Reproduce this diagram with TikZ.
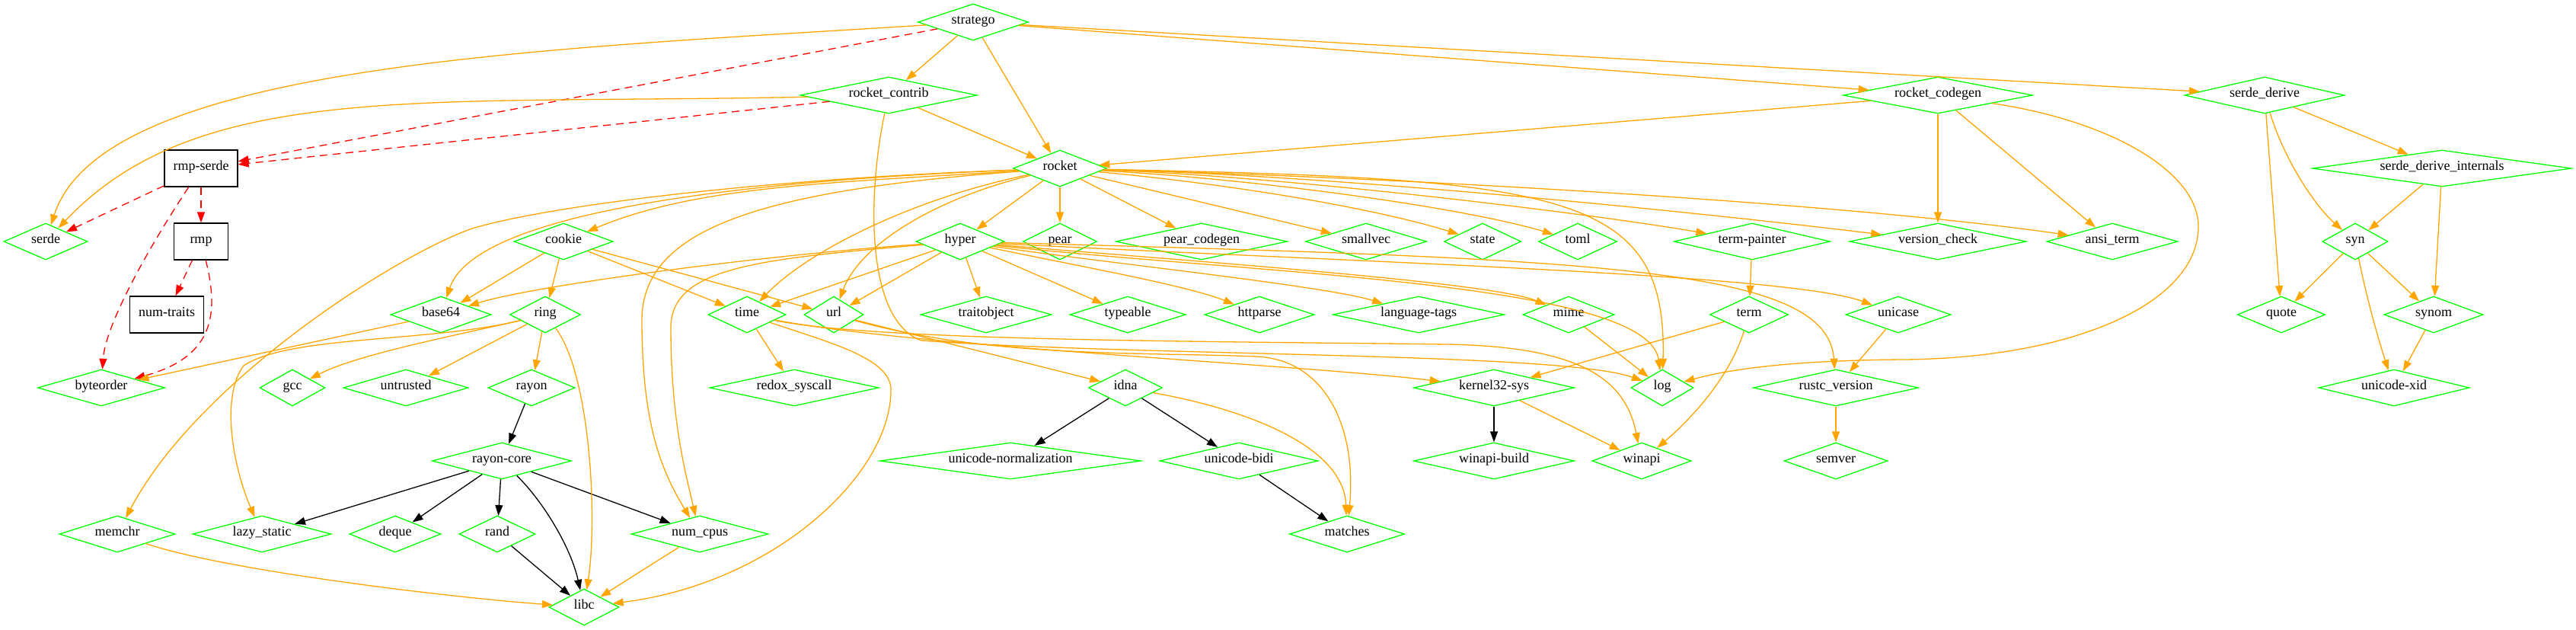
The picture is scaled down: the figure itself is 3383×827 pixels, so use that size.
\documentclass[tikz,border=0pt]{standalone}
\usepackage{fontspec}
\setmainfont{Liberation Serif}
\usetikzlibrary{arrows.meta, shapes.geometric}
\definecolor{crategreen}{HTML}{00FF00}
\definecolor{deporange}{HTML}{FFA500}
\definecolor{optred}{HTML}{FF0000}

\begin{document}
\begin{tikzpicture}[
    x=1pt, y=-1pt,
    every node/.style={font=\fontsize{18}{21}\selectfont, inner sep=0pt, minimum height=48pt, text height=5pt, text depth=-5pt, line width=1.3pt},
    crate/.style={diamond, aspect=4, draw=crategreen, minimum width=#1},
    localcrate/.style={rectangle, draw=black, minimum width=#1},
    dep/.style={draw=deporange, line width=1.3pt, -{Triangle[length=14pt, width=10pt]}},
    optdep/.style={dep, draw=optred, dash pattern=on 10pt off 7pt},
    plaindep/.style={dep, draw=black},
    every edge/.style={dep}
]
\useasboundingbox (0,0) rectangle (3383,827);

\node[crate=145] (stratego) at (1278,29) {stratego};
\node[crate=232] (rocketcontrib) at (1167,125) {rocket\_contrib};
\node[crate=249] (rocketcodegen) at (2545,125) {rocket\_codegen};
\node[crate=210] (serdederive) at (2974,125) {serde\_derive};
\node[localcrate=96] (rmpserde) at (264,221) {rmp-serde};
\node[crate=123] (rocket) at (1392,221) {rocket};
\node[crate=340] (serdederiveint) at (3207,221) {serde\_derive\_internals};
\node[crate=110] (serde) at (60,317) {serde};
\node[localcrate=71] (rmp) at (264,317) {rmp};
\node[crate=130] (cookie) at (740,317) {cookie};
\node[crate=116] (hyper) at (1261,317) {hyper};
\node[crate=97] (pear) at (1392,317) {pear};
\node[crate=225] (pearcodegen) at (1578,317) {pear\_codegen};
\node[crate=159] (smallvec) at (1794,317) {smallvec};
\node[crate=101] (state) at (1947,317) {state};
\node[crate=103] (toml) at (2072,317) {toml};
\node[crate=205] (termpainter) at (2301,317) {term-painter};
\node[crate=232] (versioncheck) at (2545,317) {version\_check};
\node[crate=172] (ansiterm) at (2774,317) {ansi\_term};
\node[crate=86] (syn) at (3093,317) {syn};
\node[localcrate=97] (numtraits) at (219,413) {num-traits};
\node[crate=132] (base64) at (579,413) {base64};
\node[crate=93] (ring) at (716,413) {ring};
\node[crate=102] (time) at (981,413) {time};
\node[crate=78] (url) at (1095,413) {url};
\node[crate=172] (traitobject) at (1295,413) {traitobject};
\node[crate=152] (typeable) at (1481,413) {typeable};
\node[crate=144] (httparse) at (1654,413) {httparse};
\node[crate=225] (langtags) at (1863,413) {language-tags};
\node[crate=120] (mime) at (2060,413) {mime};
\node[crate=103] (term) at (2297,413) {term};
\node[crate=138] (unicase) at (2493,413) {unicase};
\node[crate=115] (quote) at (2996,413) {quote};
\node[crate=130] (synom) at (3196,413) {synom};
\node[crate=167] (byteorder) at (133,509) {byteorder};
\node[crate=86] (gcc) at (384,509) {gcc};
\node[crate=164] (untrusted) at (533,509) {untrusted};
\node[crate=114] (rayon) at (698,509) {rayon};
\node[crate=222] (redoxsyscall) at (1043,509) {redox\_syscall};
\node[crate=97] (idna) at (1478,509) {idna};
\node[crate=211] (kernel32) at (1962,509) {kernel32-sys};
\node[crate=82] (log) at (2183,509) {log};
\node[crate=217] (rustcversion) at (2411,509) {rustc\_version};
\node[crate=198] (unicodexid) at (3144,509) {unicode-xid};
\node[crate=183] (rayoncore) at (659,605) {rayon-core};
\node[crate=343] (unicodenorm) at (1327,605) {unicode-normalization};
\node[crate=208] (unicodebidi) at (1627,605) {unicode-bidi};
\node[crate=211] (winapibuild) at (1962,605) {winapi-build};
\node[crate=130] (winapi) at (2156,605) {winapi};
\node[crate=136] (semver) at (2411,605) {semver};
\node[crate=152] (memchr) at (154,701) {memchr};
\node[crate=182] (lazystatic) at (344,701) {lazy\_static};
\node[crate=120] (deque) at (519,701) {deque};
\node[crate=100] (rand) at (653,701) {rand};
\node[crate=180] (numcpus) at (919,701) {num\_cpus};
\node[crate=151] (matches) at (1769,701) {matches};
\node[crate=92] (libc) at (767,797) {libc};

% optional deps
\path
 (stratego) edge[optdep] (rmpserde)
 (rocketcontrib) edge[optdep] (rmpserde)
 (rmpserde) edge[optdep] (serde)
 (rmpserde) edge[optdep] (rmp)
 (rmp) edge[optdep] (numtraits);
\draw[optdep] (rmpserde) .. controls (188,336) and (138,430) .. (byteorder);
\draw[optdep] (rmp) .. controls (290,420) and (275,470) .. (byteorder);

% straight deps
\path
 (stratego) edge (rocketcontrib)
 (stratego) edge (rocket)
 (stratego) edge (rocketcodegen)
 (stratego) edge (serdederive)
 (rocketcontrib) edge (rocket)
 (rocketcodegen) edge (rocket)
 (rocketcodegen) edge (versioncheck)
 (rocketcodegen) edge (ansiterm)
 (rocket) edge (hyper)
 (rocket) edge (pear)
 (rocket) edge (pearcodegen)
 (rocket) edge (smallvec)
 (cookie) edge (base64)
 (cookie) edge (ring)
 (cookie) edge (time)
 (cookie) edge (url)
 (hyper) edge (time)
 (hyper) edge (url)
 (hyper) edge (traitobject)
 (hyper) edge (typeable)
 (base64) edge (byteorder)
 (ring) edge (untrusted)
 (ring) edge (rayon)
 (time) edge (redoxsyscall)
 (url) edge (idna)
 (numcpus) edge (libc)
 (termpainter) edge (term)
 (term) edge (kernel32)
 (mime) edge (log)
 (kernel32) edge (winapi)
 (unicase) edge (rustcversion)
 (rustcversion) edge (semver)
 (serdederive) edge (quote)
 (serdederive) edge (serdederiveint)
 (serdederiveint) edge (syn)
 (serdederiveint) edge (synom)
 (syn) edge (quote)
 (syn) edge (synom)
 (synom) edge (unicodexid);

% black deps
\path
 (rayon) edge[plaindep] (rayoncore)
 (rayoncore) edge[plaindep] (lazystatic)
 (rayoncore) edge[plaindep] (deque)
 (rayoncore) edge[plaindep] (rand)
 (rayoncore) edge[plaindep] (numcpus)
 (rand) edge[plaindep] (libc)
 (idna) edge[plaindep] (unicodenorm)
 (idna) edge[plaindep] (unicodebidi)
 (unicodebidi) edge[plaindep] (matches)
 (kernel32) edge[plaindep] (winapibuild);
\draw[plaindep] (rayoncore) .. controls (715,660) and (750,720) .. (libc);

% curved deps
\draw[dep] (stratego) .. controls (707,65) and (135,84) .. (serde);
\draw[dep] (rocketcontrib) .. controls (550,138) and (261,105) .. (serde);
\draw[dep] (rocketcontrib) .. controls (1140,250) and (1135,420) .. (1210,447) .. controls (1500,468) and (2050,462) .. (log);
\draw[dep] (rocketcodegen) .. controls (2780,160) and (2890,230) .. (2887,300) .. controls (2884,400) and (2720,470) .. (2500,472) .. controls (2350,473) and (2270,485) .. (log);
\draw[dep] (rocket) .. controls (1600,240) and (1793,270) .. (state);
\draw[dep] (rocket) .. controls (1650,235) and (1920,272) .. (toml);
\draw[dep] (rocket) .. controls (1700,232) and (2100,282) .. (termpainter);
\draw[dep] (rocket) .. controls (1800,232) and (2300,287) .. (versioncheck);
\draw[dep] (rocket) .. controls (1900,235) and (2450,270) .. (ansiterm);
\draw[dep] (rocket) .. controls (2050,235) and (2190,250) .. (log);
\draw[dep] (rocket) .. controls (1090,240) and (915,244) .. (cookie);
\draw[dep] (rocket) .. controls (900,240) and (620,290) .. (base64);
\draw[dep] (rocket) .. controls (1000,235) and (720,270) .. (620,300) .. controls (520,335) and (260,500) .. (memchr);
\draw[dep] (rocket) .. controls (1000,250) and (843,300) .. (843,420) .. controls (843,560) and (870,620) .. (numcpus);
\draw[dep] (rocket) .. controls (1200,260) and (1060,330) .. (time);
\draw[dep] (rocket) .. controls (1230,260) and (1130,320) .. (url);
\draw[dep] (hyper) .. controls (1000,335) and (700,375) .. (base64);
\draw[dep] (hyper) .. controls (1000,340) and (881,350) .. (881,430) .. controls (881,550) and (900,620) .. (numcpus);
\draw[dep] (hyper) .. controls (1420,350) and (1560,375) .. (httparse);
\draw[dep] (hyper) .. controls (1450,345) and (1740,375) .. (langtags);
\draw[dep] (hyper) .. controls (1550,342) and (1960,370) .. (mime);
\draw[dep] (hyper) .. controls (1650,360) and (2165,370) .. (log);
\draw[dep] (hyper) .. controls (1800,345) and (2350,360) .. (unicase);
\draw[dep] (hyper) .. controls (2100,340) and (2400,350) .. (rustcversion);
\draw[dep] (ring) .. controls (600,440) and (470,465) .. (gcc);
\draw[dep] (ring) .. controls (560,450) and (380,440) .. (320,480) .. controls (290,520) and (305,610) .. (lazystatic);
\draw[dep] (ring) .. controls (775,490) and (785,680) .. (libc);
\draw[dep] (time) .. controls (1090,450) and (1168,470) .. (1170,510) .. controls (1172,620) and (1020,765) .. (libc);
\draw[dep] (time) .. controls (1200,455) and (1700,478) .. (kernel32);
\draw[dep] (time) .. controls (1150,448) and (1600,448) .. (1900,452) .. controls (2080,455) and (2135,500) .. (winapi);
\draw[dep] (url) .. controls (1300,470) and (1500,462) .. (1650,468) .. controls (1740,472) and (1782,560) .. (matches);
\draw[dep] (idna) .. controls (1650,540) and (1765,590) .. (matches);
\draw[dep] (memchr) .. controls (300,750) and (600,785) .. (libc);
\draw[dep] (term) .. controls (2270,500) and (2215,555) .. (winapi);
\draw[dep] (serdederive) .. controls (3000,210) and (3040,270) .. (syn);
\draw[dep] (syn) .. controls (3110,400) and (3125,450) .. (unicodexid);
\end{tikzpicture}
\end{document}
